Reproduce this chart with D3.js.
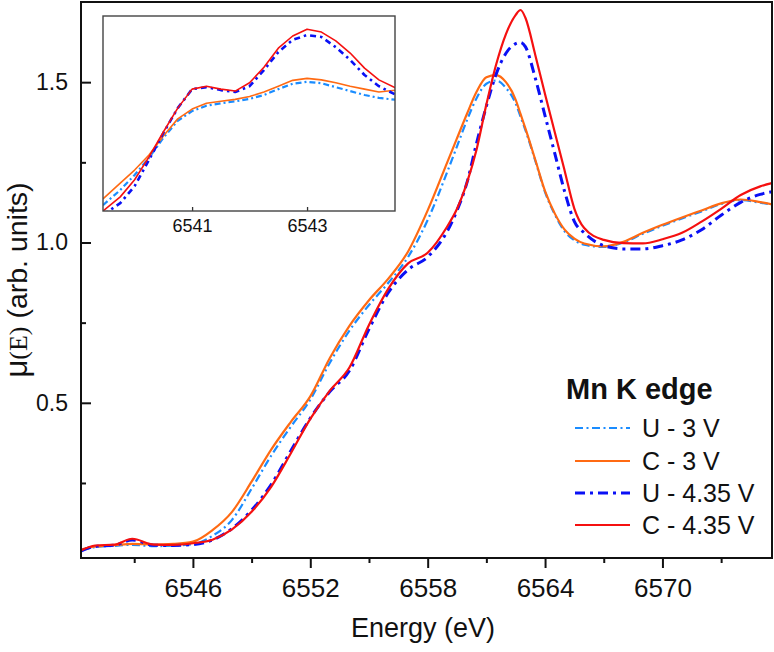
<!DOCTYPE html>
<html>
<head>
<meta charset="utf-8">
<script src="https://cdn.jsdelivr.net/npm/d3@7"></script>
<style>
  html, body { margin: 0; padding: 0; background: #fff; }
  svg { display: block; }
  text { font-family: "Liberation Sans", Arial, sans-serif; fill: #111; }
</style>
</head>
<body>
<svg id="chart" width="774" height="652"></svg>
<script>
// ---------------- data ----------------
const energy = [6540.3, 6541, 6542, 6542.9, 6544, 6545, 6546, 6547, 6548, 6549, 6550, 6551, 6552, 6553, 6554, 6555, 6556, 6557, 6558, 6559, 6559.5, 6560, 6560.5, 6561, 6561.5, 6562, 6562.5, 6562.75, 6563, 6563.5, 6564, 6564.5, 6565, 6565.5, 6566, 6567, 6568, 6569, 6570, 6571, 6572, 6573, 6574, 6575, 6575.6];

const seriesU3   = [0.040, 0.050, 0.054, 0.057, 0.053, 0.055, 0.059, 0.085, 0.135, 0.232, 0.335, 0.425, 0.510, 0.625, 0.725, 0.805, 0.875, 0.955, 1.070, 1.220, 1.300, 1.380, 1.450, 1.495, 1.505, 1.482, 1.433, 1.392, 1.350, 1.255, 1.157, 1.087, 1.035, 1.007, 0.993, 0.986, 1.000, 1.027, 1.052, 1.075, 1.097, 1.120, 1.132, 1.124, 1.118];
const seriesC3   = [0.042, 0.052, 0.056, 0.060, 0.058, 0.060, 0.067, 0.103, 0.160, 0.254, 0.354, 0.440, 0.520, 0.640, 0.740, 0.820, 0.888, 0.972, 1.100, 1.250, 1.325, 1.400, 1.470, 1.515, 1.522, 1.500, 1.445, 1.400, 1.355, 1.258, 1.160, 1.090, 1.040, 1.012, 0.997, 0.988, 1.002, 1.030, 1.055, 1.078, 1.100, 1.122, 1.134, 1.126, 1.119];
const seriesU435 = [0.038, 0.052, 0.056, 0.072, 0.056, 0.055, 0.058, 0.072, 0.108, 0.165, 0.245, 0.350, 0.452, 0.535, 0.600, 0.730, 0.845, 0.915, 0.955, 1.035, 1.100, 1.185, 1.310, 1.425, 1.525, 1.590, 1.620, 1.624, 1.610, 1.513, 1.395, 1.277, 1.159, 1.065, 1.030, 0.990, 0.980, 0.980, 0.990, 1.008, 1.040, 1.085, 1.125, 1.150, 1.158];
const seriesC435 = [0.040, 0.055, 0.058, 0.076, 0.058, 0.057, 0.062, 0.073, 0.105, 0.160, 0.238, 0.342, 0.450, 0.538, 0.610, 0.743, 0.857, 0.935, 0.968, 1.050, 1.105, 1.185, 1.290, 1.430, 1.555, 1.650, 1.710, 1.725, 1.700, 1.585, 1.462, 1.343, 1.224, 1.105, 1.045, 1.008, 0.998, 0.997, 1.010, 1.030, 1.065, 1.105, 1.148, 1.175, 1.185];

// inset (pre-edge region, magnified)
const insetEnergy = [6539.45, 6539.75, 6540.0, 6540.25, 6540.5, 6540.75, 6541.0, 6541.25, 6541.5, 6541.75, 6542.0, 6542.25, 6542.5, 6542.75, 6543.0, 6543.25, 6543.5, 6543.75, 6544.0, 6544.25, 6544.55];
const insetU3   = [0.0412, 0.0443, 0.0474, 0.0509, 0.0550, 0.0585, 0.0605, 0.0616, 0.0621, 0.0625, 0.0630, 0.0638, 0.0650, 0.0661, 0.0665, 0.0662, 0.0654, 0.0646, 0.0638, 0.0632, 0.0628];
const insetC3   = [0.0425, 0.0457, 0.0484, 0.0515, 0.0554, 0.0589, 0.0609, 0.0621, 0.0625, 0.0629, 0.0635, 0.0644, 0.0656, 0.0668, 0.0672, 0.0669, 0.0663, 0.0656, 0.0650, 0.0644, 0.0648];
const insetU435 = [0.0392, 0.0416, 0.0451, 0.0505, 0.0560, 0.0611, 0.0650, 0.0654, 0.0648, 0.0644, 0.0656, 0.0689, 0.0726, 0.0751, 0.0761, 0.0757, 0.0736, 0.0710, 0.0679, 0.0656, 0.0638];
const insetC435 = [0.0400, 0.0429, 0.0464, 0.0511, 0.0562, 0.0611, 0.0650, 0.0656, 0.0650, 0.0646, 0.0663, 0.0695, 0.0734, 0.0759, 0.0773, 0.0767, 0.0749, 0.0724, 0.0693, 0.0669, 0.0652];

const seriesNames = ["U - 3 V", "C - 3 V", "U - 4.35 V", "C - 4.35 V"];
const xMajorTicks = [6546, 6552, 6558, 6564, 6570];
const xMinorTicks = [6543, 6549, 6555, 6561, 6567, 6573];
const yMajorTicks = [0.5, 1.0, 1.5];
const yMinorTicks = [0.25, 0.75, 1.25];
const insetXTicks = [6541, 6543];
const legendTitle = "Mn K edge";
const xTitle = "Energy (eV)";

// ---------------- styles ----------------
const styles = [
  { color: "#1a8cff", width: 2.2, dash: "8,3.5,2,3.5", iw: 2.2, idash: "6,3,2,3" },
  { color: "#ff6a13", width: 2.2, dash: null, iw: 1.6, idash: null },
  { color: "#0a10f5", width: 3.0, dash: "10,5,3,5", iw: 2.6, idash: "6,4,2.5,4" },
  { color: "#f51010", width: 2.2, dash: null, iw: 1.6, idash: null }
];

const svg = d3.select("#chart");
const L = 81, R = 772, T = 2, B = 558;

const x = d3.scaleLinear().domain([6540.28, 6575.6]).range([L, R]);
const y = d3.scaleLinear().domain([0.016, 1.75]).range([B, T]);

svg.append("defs").append("clipPath").attr("id", "mainClip")
  .append("rect").attr("x", L).attr("y", T).attr("width", R - L).attr("height", B - T);

const mainSeries = [seriesU3, seriesC3, seriesU435, seriesC435];
const line = d3.line().curve(d3.curveMonotoneX)
  .x(d => x(d[0])).y(d => y(d[1]));

const gLines = svg.append("g").attr("clip-path", "url(#mainClip)");
mainSeries.forEach((s, i) => {
  const pts = energy.map((e, k) => [e, s[k]]);
  gLines.append("path").datum(pts)
    .attr("d", line)
    .attr("fill", "none")
    .attr("stroke", styles[i].color)
    .attr("stroke-width", styles[i].width)
    .attr("stroke-dasharray", styles[i].dash)
    .attr("stroke-linejoin", "round");
});

// axes: x (outward ticks)
const xAxisMajor = d3.axisBottom(x).tickValues(xMajorTicks).tickSize(10).tickPadding(11).tickFormat(d3.format("d"));
const gx = svg.append("g").attr("transform", `translate(0,${B})`).call(xAxisMajor);
gx.select(".domain").remove();
gx.selectAll("line").attr("stroke", "#111").attr("stroke-width", 2);
gx.selectAll("text").attr("font-size", 26).attr("font-family", "Liberation Sans, Arial, sans-serif").attr("fill", "#111").attr("dy", "0.71em");

const xAxisMinor = d3.axisBottom(x).tickValues(xMinorTicks).tickSize(5).tickFormat("");
const gxm = svg.append("g").attr("transform", `translate(0,${B})`).call(xAxisMinor);
gxm.select(".domain").remove();
gxm.selectAll("line").attr("stroke", "#111").attr("stroke-width", 2);

// y axis (inward ticks)
const yAxisMajor = d3.axisLeft(y).tickValues(yMajorTicks).tickSize(-10).tickPadding(13).tickFormat(d3.format(".1f"));
const gy = svg.append("g").attr("transform", `translate(${L},0)`).call(yAxisMajor);
gy.select(".domain").remove();
gy.selectAll("line").attr("stroke", "#111").attr("stroke-width", 2);
gy.selectAll("text").attr("font-size", 23).attr("font-family", "Liberation Sans, Arial, sans-serif").attr("fill", "#111");

const yAxisMinor = d3.axisLeft(y).tickValues(yMinorTicks).tickSize(-5).tickFormat("");
const gym = svg.append("g").attr("transform", `translate(${L},0)`).call(yAxisMinor);
gym.select(".domain").remove();
gym.selectAll("line").attr("stroke", "#111").attr("stroke-width", 2);

// frame
svg.append("rect").attr("x", L).attr("y", T).attr("width", R - L).attr("height", B - T)
  .attr("fill", "none").attr("stroke", "#111").attr("stroke-width", 2);

// axis titles
svg.append("text").attr("x", 423).attr("y", 637).attr("text-anchor", "middle")
  .attr("font-size", 27).text(xTitle);

const yt = svg.append("text").attr("transform", "translate(27,280) rotate(-90)")
  .attr("text-anchor", "middle").attr("font-size", 28.5);
yt.append("tspan").attr("font-size", 31).text("μ");
yt.append("tspan").attr("font-family", "Liberation Serif, 'Times New Roman', serif").attr("font-size", 26).text("(E)");
yt.append("tspan").text(" (arb. units)");

// ---------------- inset ----------------
const IL = 103, IR = 395, IT = 16, IB = 211;
const xi = d3.scaleLinear().domain([6539.45, 6544.53]).range([IL, IR]);
const yi = d3.scaleLinear().domain([0.040, 0.080]).range([IB, IT]);

svg.append("rect").attr("x", IL).attr("y", IT).attr("width", IR - IL).attr("height", IB - IT)
  .attr("fill", "#fff").attr("stroke", "none");
svg.select("defs").append("clipPath").attr("id", "insetClip")
  .append("rect").attr("x", IL).attr("y", IT).attr("width", IR - IL).attr("height", IB - IT);

const insetSeries = [insetU3, insetC3, insetU435, insetC435];
const iline = d3.line().curve(d3.curveLinear).x(d => xi(d[0])).y(d => yi(d[1]));
const gi = svg.append("g").attr("clip-path", "url(#insetClip)");
insetSeries.forEach((s, i) => {
  const pts = insetEnergy.map((e, k) => [e, s[k]]);
  gi.append("path").datum(pts)
    .attr("d", iline)
    .attr("fill", "none")
    .attr("stroke", styles[i].color)
    .attr("stroke-width", styles[i].iw)
    .attr("stroke-dasharray", styles[i].idash)
    .attr("stroke-linejoin", "round");
});

const xiAxis = d3.axisBottom(xi).tickValues(insetXTicks).tickSize(-4).tickPadding(8).tickFormat(d3.format("d"));
const gxi = svg.append("g").attr("transform", `translate(0,${IB})`).call(xiAxis);
gxi.select(".domain").remove();
gxi.selectAll("line").attr("stroke", "#333").attr("stroke-width", 1.3);
gxi.selectAll("text").attr("font-size", 18).attr("font-family", "Liberation Sans, Arial, sans-serif").attr("fill", "#111").attr("dy", "0.71em");

svg.append("rect").attr("x", IL).attr("y", IT).attr("width", IR - IL).attr("height", IB - IT)
  .attr("fill", "none").attr("stroke", "#444").attr("stroke-width", 1.4);

// ---------------- legend ----------------
svg.append("text").attr("x", 566).attr("y", 399).attr("font-size", 29).attr("font-weight", "bold")
  .text(legendTitle);
const legendY = [428, 461, 493, 525];
seriesNames.forEach((name, i) => {
  const g = svg.append("g");
  g.append("line").attr("x1", 575).attr("x2", 630).attr("y1", legendY[i]).attr("y2", legendY[i])
    .attr("stroke", styles[i].color).attr("stroke-width", styles[i].width)
    .attr("stroke-dasharray", styles[i].dash);
  g.append("text").attr("x", 642).attr("y", legendY[i] + 9).attr("font-size", 25).text(name);
});
</script>
</body>
</html>
